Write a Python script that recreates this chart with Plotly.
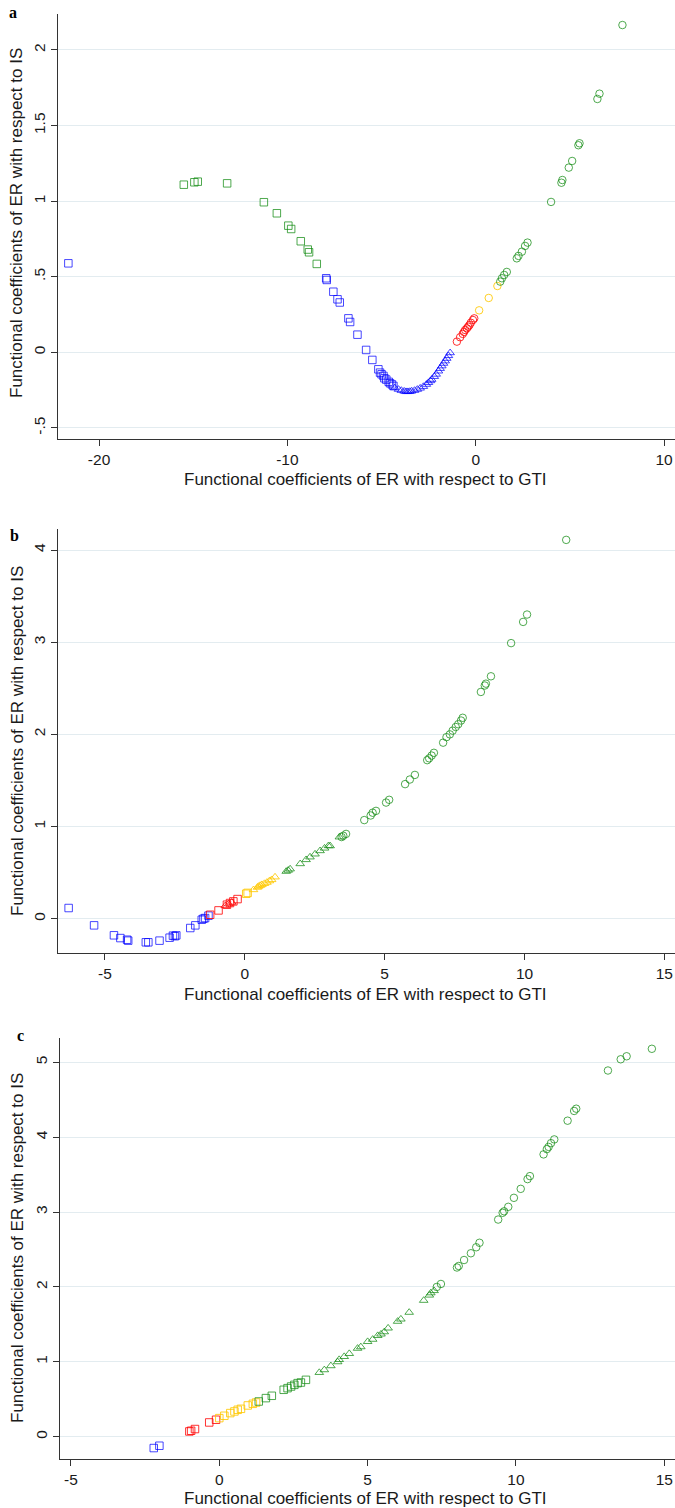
import plotly.graph_objects as go

# ---------------- Panel a ----------------
a_green_sq_x = [-15.5, -14.94, -14.76, -13.2, -11.25, -10.56, -9.95, -9.80, -9.29, -8.92, -8.85, -8.44]
a_green_sq_y = [1.109, 1.125, 1.129, 1.118, 0.993, 0.92, 0.838, 0.816, 0.735, 0.68, 0.662, 0.585]
a_blue_sq_x = [-21.63, -7.94, -7.91, -7.56, -7.34, -7.22, -6.76, -6.67, -6.28, -5.82, -5.49, -5.17,
               -5.08, -5.0, -4.9, -4.85, -4.75, -4.62, -4.55, -4.45, -4.37]
a_blue_sq_y = [0.589, 0.49, 0.479, 0.401, 0.351, 0.33, 0.225, 0.201, 0.117, 0.016, -0.05, -0.112,
               -0.134, -0.145, -0.156, -0.171, -0.18, -0.195, -0.204, -0.212, -0.222]
a_blue_tri_x = [-4.3, -4.1, -3.95, -3.8, -3.7, -3.6, -3.5, -3.4, -3.25, -3.1, -2.95, -2.78, -2.62,
                -2.51, -2.4, -2.34, -2.2, -2.1, -1.98, -1.89, -1.8, -1.71, -1.62, -1.54, -1.45, -1.36]
a_blue_tri_y = [-0.235, -0.245, -0.252, -0.257, -0.26, -0.26, -0.259, -0.256, -0.252, -0.245, -0.237,
                -0.226, -0.212, -0.2, -0.188, -0.179, -0.16, -0.145, -0.124, -0.107, -0.09, -0.073,
                -0.057, -0.04, -0.022, -0.003]
a_red_ci_x = [-1.0, -0.83, -0.69, -0.62, -0.56, -0.47, -0.40, -0.33, -0.26, -0.15, -0.08]
a_red_ci_y = [0.071, 0.1, 0.122, 0.135, 0.148, 0.159, 0.17, 0.181, 0.196, 0.214, 0.225]
a_gold_ci_x = [0.18, 0.69, 1.15]
a_gold_ci_y = [0.278, 0.36, 0.439]
a_green_ci_x = [1.3, 1.39, 1.51, 1.65, 2.18, 2.27, 2.45, 2.62, 2.75, 4.0, 4.55, 4.6, 4.94, 5.12,
                5.45, 5.51, 6.46, 6.57, 7.79]
a_green_ci_y = [0.468, 0.49, 0.512, 0.532, 0.622, 0.638, 0.666, 0.704, 0.726, 0.995, 1.122, 1.14,
                1.222, 1.266, 1.37, 1.383, 1.676, 1.711, 2.165]

# ---------------- Panel b ----------------
b_blue_sq_x = [-6.3, -5.39, -4.68, -4.45, -4.21, -4.17, -3.54, -3.45, -3.05, -2.69, -2.57, -2.5,
               -2.45, -1.95, -1.77, -1.54, -1.48, -1.42, -1.3]
b_blue_sq_y = [0.116, -0.072, -0.18, -0.21, -0.228, -0.238, -0.256, -0.256, -0.238, -0.206, -0.184,
               -0.19, -0.181, -0.101, -0.072, -0.011, 0.0, 0.007, 0.033]
b_red_sq_x = [-1.24, -0.94, -0.64, -0.53, -0.41, -0.26]
b_red_sq_y = [0.043, 0.09, 0.152, 0.17, 0.188, 0.213]
b_red_tri_x = [-0.7, -0.58, -0.47]
b_red_tri_y = [0.14, 0.16, 0.178]
b_gold_sq_x = [0.05, 0.1]
b_gold_sq_y = [0.271, 0.28]
b_gold_tri_x = [0.31, 0.45, 0.49, 0.55, 0.61, 0.7, 0.79, 0.88, 0.96, 1.08]
b_gold_tri_y = [0.314, 0.34, 0.35, 0.36, 0.369, 0.381, 0.394, 0.41, 0.423, 0.452]
b_green_tri_x = [1.48, 1.55, 1.62, 1.98, 2.19, 2.33, 2.51, 2.69, 2.85, 2.99, 3.05, 3.38]
b_green_tri_y = [0.513, 0.525, 0.539, 0.596, 0.64, 0.669, 0.701, 0.737, 0.765, 0.791, 0.79, 0.886]
b_green_ci_x = [3.46, 3.52, 3.62, 4.27, 4.5, 4.57, 4.69, 5.05, 5.16, 5.73, 5.9, 6.08, 6.52, 6.59,
                6.68, 6.76, 7.09, 7.21, 7.33, 7.43, 7.54, 7.63, 7.73, 7.79, 8.44, 8.58, 8.62, 8.80,
                9.52, 9.95, 10.09, 11.49]
b_green_ci_y = [0.886, 0.90, 0.92, 1.07, 1.12, 1.15, 1.17, 1.26, 1.29, 1.46, 1.51, 1.56, 1.72, 1.74,
                1.77, 1.80, 1.91, 1.97, 2.0, 2.04, 2.08, 2.11, 2.15, 2.18, 2.46, 2.53, 2.55, 2.63,
                2.99, 3.22, 3.30, 4.11]

# ---------------- Panel c ----------------
c_blue_sq_x = [-2.21, -2.02]
c_blue_sq_y = [-0.151, -0.12]
c_red_sq_x = [-1.01, -0.95, -0.82, -0.34, -0.11]
c_red_sq_y = [0.071, 0.08, 0.103, 0.191, 0.227]
c_gold_sq_x = [0.0, 0.17, 0.37, 0.51, 0.62, 0.73, 0.96, 1.13, 1.24]
c_gold_sq_y = [0.249, 0.28, 0.316, 0.338, 0.36, 0.373, 0.418, 0.44, 0.457]
c_green_sq_x = [1.33, 1.57, 1.77, 2.17, 2.3, 2.42, 2.53, 2.64, 2.75, 2.92]
c_green_sq_y = [0.471, 0.516, 0.547, 0.627, 0.649, 0.671, 0.693, 0.716, 0.724, 0.76]
c_green_tri_x = [3.37, 3.54, 3.76, 3.99, 4.04, 4.21, 4.38, 4.66, 4.77, 5.0, 5.17, 5.34, 5.45, 5.56,
                 5.69, 6.01, 6.12, 6.4, 6.89, 7.08, 7.13, 7.24]
c_green_tri_y = [0.857, 0.893, 0.947, 1.0, 1.03, 1.07, 1.11, 1.18, 1.20, 1.27, 1.30, 1.35, 1.37, 1.40,
                 1.45, 1.54, 1.57, 1.66, 1.82, 1.89, 1.92, 1.95]
c_green_ci_x = [7.33, 7.47, 8.01, 8.07, 8.25, 8.48, 8.66, 8.77, 9.4, 9.55, 9.6, 9.74, 9.93, 10.16,
                10.39, 10.47, 10.93, 11.04, 11.1, 11.18, 11.29, 11.74, 11.96, 12.03, 13.1, 13.53,
                13.73, 14.58]
c_green_ci_y = [2.0, 2.04, 2.26, 2.28, 2.36, 2.45, 2.53, 2.59, 2.90, 2.99, 3.01, 3.07, 3.19, 3.31,
                3.44, 3.48, 3.77, 3.84, 3.87, 3.92, 3.97, 4.22, 4.35, 4.38, 4.89, 5.04, 5.08, 5.18]

# Tick values and labels
a_yticks = [-0.5, 0, 0.5, 1, 1.5, 2]
a_yticklabels = ["-.5", "0", ".5", "1", "1.5", "2"]
a_xticks = [-20, -10, 0, 10]
a_xticklabels = ["-20", "-10", "0", "10"]
b_yticks = [0, 1, 2, 3, 4]
b_yticklabels = ["0", "1", "2", "3", "4"]
b_xticks = [-5, 0, 5, 10, 15]
b_xticklabels = ["-5", "0", "5", "10", "15"]
c_yticks = [0, 1, 2, 3, 4, 5]
c_yticklabels = ["0", "1", "2", "3", "4", "5"]
c_xticks = [-5, 0, 5, 10, 15]
c_xticklabels = ["-5", "0", "5", "10", "15"]

X_TITLE = "Functional coefficients of ER with respect to GTI"
Y_TITLE = "Functional coefficients of ER with respect to IS"

W, H = 675, 1508
COL = {
    "blue": "rgba(0,0,255,0.72)",
    "green": "rgba(20,140,20,0.75)",
    "red": "rgba(255,0,0,0.8)",
    "gold": "rgba(255,200,0,0.85)",
}
SYM = {"sq": "square-open", "tri": "triangle-up-open", "ci": "circle-open"}

fig = go.Figure()


def add(xs, ys, color, shape, axis_id):
    sfx = "" if axis_id == 1 else str(axis_id)
    fig.add_trace(go.Scatter(
        x=xs, y=ys, mode="markers", showlegend=False,
        xaxis="x" + sfx, yaxis="y" + sfx,
        marker=dict(symbol=SYM[shape], size=7.5,
                    color=COL[color], line=dict(color=COL[color], width=1)),
    ))


add(a_green_sq_x, a_green_sq_y, "green", "sq", 1)
add(a_blue_sq_x, a_blue_sq_y, "blue", "sq", 1)
add(a_blue_tri_x, a_blue_tri_y, "blue", "tri", 1)
add(a_red_ci_x, a_red_ci_y, "red", "ci", 1)
add(a_gold_ci_x, a_gold_ci_y, "gold", "ci", 1)
add(a_green_ci_x, a_green_ci_y, "green", "ci", 1)

add(b_blue_sq_x, b_blue_sq_y, "blue", "sq", 2)
add(b_red_sq_x, b_red_sq_y, "red", "sq", 2)
add(b_red_tri_x, b_red_tri_y, "red", "tri", 2)
add(b_gold_sq_x, b_gold_sq_y, "gold", "sq", 2)
add(b_gold_tri_x, b_gold_tri_y, "gold", "tri", 2)
add(b_green_tri_x, b_green_tri_y, "green", "tri", 2)
add(b_green_ci_x, b_green_ci_y, "green", "ci", 2)

add(c_blue_sq_x, c_blue_sq_y, "blue", "sq", 3)
add(c_red_sq_x, c_red_sq_y, "red", "sq", 3)
add(c_gold_sq_x, c_gold_sq_y, "gold", "sq", 3)
add(c_green_sq_x, c_green_sq_y, "green", "sq", 3)
add(c_green_tri_x, c_green_tri_y, "green", "tri", 3)
add(c_green_ci_x, c_green_ci_y, "green", "ci", 3)

FONT = "Liberation Sans, Arial, sans-serif"
TICKFONT = dict(family=FONT, size=15.5, color="#1a1a1a")
TITLEFONT = dict(family=FONT, size=17, color="#1a1a1a")
GRID = "#e3ecf0"


def xaxis(domain_left, rng, ticks, labels, anchor):
    return dict(domain=[domain_left, 1.0], range=rng, tickvals=ticks, ticktext=labels,
                showgrid=False, zeroline=False, showline=True, linecolor="#333",
                linewidth=1.2, ticks="outside", ticklen=6, tickcolor="#333",
                tickfont=TICKFONT, anchor=anchor, fixedrange=True)


def yaxis(dom, rng, ticks, labels, anchor):
    return dict(domain=dom, range=rng, tickvals=ticks, ticktext=labels,
                showgrid=True, gridcolor=GRID, gridwidth=1, zeroline=False,
                showline=True, linecolor="#333", linewidth=1.2, ticks="outside",
                ticklen=6, tickcolor="#333", tickangle=-90, tickfont=TICKFONT,
                anchor=anchor, fixedrange=True)


def py(p):
    return 1 - p / H


fig.update_layout(
    width=W, height=H, margin=dict(l=0, r=0, t=0, b=0),
    paper_bgcolor="white", plot_bgcolor="white",
    xaxis=xaxis(58 / W, [-22.18, 10.58], a_xticks, a_xticklabels, "y"),
    yaxis=yaxis([py(439), py(14)], [-0.573, 2.238], a_yticks, a_yticklabels, "x"),
    xaxis2=xaxis(58 / W, [-6.68, 15.38], b_xticks, b_xticklabels, "y2"),
    yaxis2=yaxis([py(953), py(529)], [-0.372, 4.228], b_yticks, b_yticklabels, "x2"),
    xaxis3=xaxis(60 / W, [-5.37, 15.36], c_xticks, c_xticklabels, "y3"),
    yaxis3=yaxis([py(1459), py(1038)], [-0.297, 5.324], c_yticks, c_yticklabels, "x3"),
)

ann = []
# axis titles for each panel: (x-title centre y, y-title centre y)
for xt_y, yt_y in [(479, 223), (994, 741), (1498, 1248)]:
    ann.append(dict(text=X_TITLE, x=365 / W, y=py(xt_y), xref="paper", yref="paper",
                    xanchor="center", yanchor="middle", showarrow=False, font=TITLEFONT))
    ann.append(dict(text=Y_TITLE, x=17 / W, y=py(yt_y), xref="paper", yref="paper",
                    xanchor="center", yanchor="middle", showarrow=False, textangle=-90,
                    font=TITLEFONT))
# panel letters
for letter, lx, ly in [("a", 13, 13), ("b", 14, 535), ("c", 20, 1035)]:
    ann.append(dict(text="<b>%s</b>" % letter, x=lx / W, y=py(ly), xref="paper", yref="paper",
                    xanchor="center", yanchor="middle", showarrow=False,
                    font=dict(family="Liberation Serif, Times New Roman, serif", size=16,
                              color="#000")))
fig.update_layout(annotations=ann)

fig.write_html("out.html")
